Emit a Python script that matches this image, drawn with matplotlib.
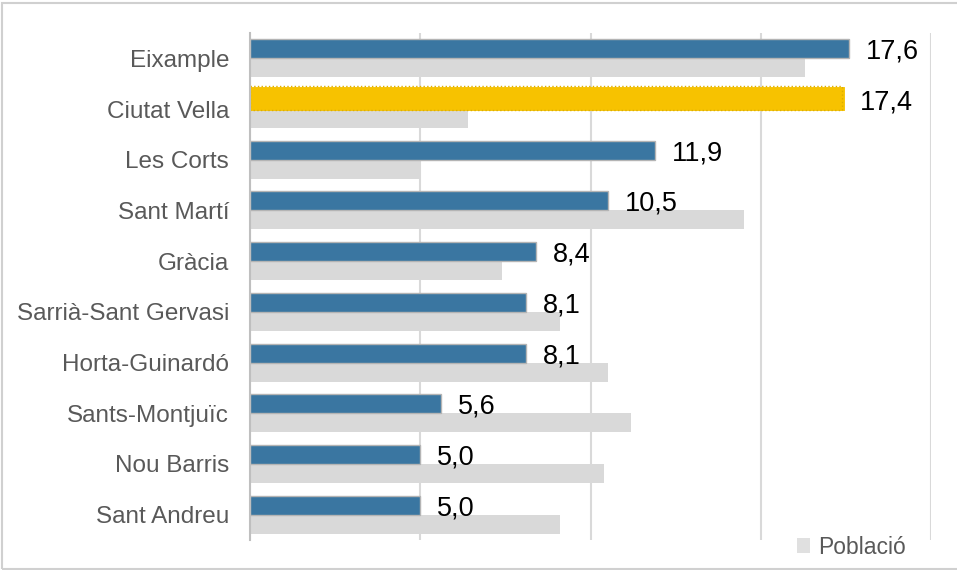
import matplotlib
matplotlib.use("Agg")
import matplotlib.pyplot as plt
from matplotlib.patches import Patch, Rectangle

plt.rcParams["font.family"] = ["Liberation Sans", "DejaVu Sans"]

DISTRICTS = [
    "Eixample", "Ciutat Vella", "Les Corts", "Sant Martí", "Gràcia",
    "Sarrià-Sant Gervasi", "Horta-Guinardó", "Sants-Montjuïc",
    "Nou Barris", "Sant Andreu",
]
VALUES = [17.6, 17.4, 11.9, 10.5, 8.4, 8.1, 8.1, 5.6, 5.0, 5.0]
POBLACIO = [16.3, 6.4, 5.0, 14.5, 7.4, 9.1, 10.5, 11.2, 10.4, 9.1]
HIGHLIGHT = "Ciutat Vella"

BLUE = "#3a76a1"
YELLOW = "#f7c200"
GRAY = "#d9d9d9"
TEXT_GRAY = "#595959"

BAR_H = 0.375

fig = plt.figure(figsize=(9.57, 5.70), dpi=100)
ax = fig.add_axes([250 / 957, 1 - 540 / 570, 681 / 957, 507 / 570])

ys = list(range(len(DISTRICTS)))
blue_y = [y - BAR_H / 2 for y in ys]
gray_y = [y + BAR_H / 2 for y in ys]

ax.barh(gray_y, POBLACIO, height=BAR_H, color=GRAY, zorder=2)
for name, y, v in zip(DISTRICTS, blue_y, VALUES):
    if name == HIGHLIGHT:
        # highlighted bar: yellow fill with a thin dotted outline
        ax.barh(y - 0.03, v, height=BAR_H, color=YELLOW, edgecolor=YELLOW,
                linewidth=3.5, zorder=3)
        ax.barh(y - 0.03, v, height=BAR_H + 0.08, fill=False,
                edgecolor="#dcae00", linewidth=1.0, linestyle=":", zorder=3)
    else:
        ax.barh(y, v, height=BAR_H, color=BLUE, edgecolor="#b4b4b4",
                linewidth=1.0, zorder=3)
    ax.text(v + 0.5, y, f"{v:.1f}".replace(".", ","), fontsize=19.5,
            color="black", va="center_baseline", ha="left", zorder=4)

ax.set_xlim(0, 20)
ax.set_ylim(len(DISTRICTS) - 0.5, -0.5)
ax.set_xticks([0, 5, 10, 15, 20])
ax.set_xticklabels([])
ax.tick_params(axis="x", length=0)
ax.grid(axis="x", color=GRAY, linewidth=1.5, zorder=0)
ax.set_axisbelow(True)

ax.set_yticks(ys)
ax.set_yticklabels(DISTRICTS, fontsize=17.5, color=TEXT_GRAY)
ax.tick_params(axis="y", length=0, pad=15)

for side in ("top", "right", "bottom"):
    ax.spines[side].set_visible(False)
ax.spines["left"].set_color("#bfbfbf")
ax.spines["left"].set_linewidth(1.5)
ax.spines["left"].set_zorder(5)

fig.legend(
    handles=[Patch(facecolor="#e0e0e0", label="Població")],
    loc="center", bbox_to_anchor=(851.5 / 957, 1 - 547 / 570),
    frameon=False, fontsize=16.5, labelcolor=TEXT_GRAY,
    handlelength=0.55, handleheight=0.6, handletextpad=0.35, borderpad=0,
)

fig.patches.append(Rectangle(
    (1.5 / 957, 1 - 569 / 570), 1.2, 566 / 570, transform=fig.transFigure,
    fill=False, edgecolor="#d0d0d0", linewidth=1.5,
))

fig.savefig("out.png", dpi=100)
